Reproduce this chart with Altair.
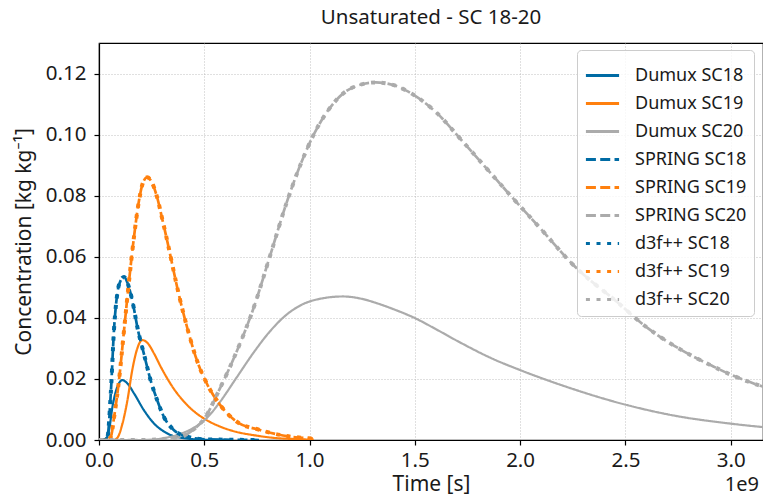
import altair as alt
import pandas as pd

# ---- data (time in units of 1e9 s, concentration in kg/kg) ----
series_names = ["Dumux SC18", "Dumux SC19", "Dumux SC20",
                "SPRING SC18", "SPRING SC19", "SPRING SC20",
                "d3f++ SC18", "d3f++ SC19", "d3f++ SC20"]
series_colors = ["#006BA4", "#FF800E", "#ABABAB"] * 3

t_dumux_sc18 = [0, 0.03, 0.048, 0.064, 0.087, 0.111, 0.135, 0.166, 0.213, 0.26, 0.323, 0.402, 0.5, 0.6]
c_dumux_sc18 = [0, 0.0002, 0.0033, 0.0109, 0.0174, 0.0196, 0.0185, 0.0153, 0.0098, 0.0055, 0.0022, 0.0006, 0.0001, 0.0]

t_dumux_sc19 = [0, 0.07, 0.09, 0.11, 0.135, 0.158, 0.182, 0.205, 0.23, 0.26, 0.293, 0.323, 0.355, 0.402, 0.449,
                0.497, 0.575, 0.65, 0.733, 0.83, 0.93, 1.02]
c_dumux_sc19 = [0, 0.0, 0.001, 0.005, 0.013, 0.0229, 0.030, 0.0327, 0.0318, 0.0285, 0.024, 0.0203, 0.0168, 0.0127,
                0.0095, 0.0071, 0.0044, 0.0027, 0.0016, 0.0007, 0.0003, 0.0001]

t_dumux_sc20 = [0, 0.25, 0.3, 0.386, 0.45, 0.512, 0.575, 0.654, 0.733, 0.811, 0.89, 0.969, 1.047, 1.158, 1.25,
                1.315, 1.4, 1.504, 1.6, 1.708, 1.866, 2.0, 2.212, 2.51, 2.747, 2.983, 3.156]
c_dumux_sc20 = [0, 0, 0.0005, 0.002, 0.004, 0.0072, 0.0125, 0.0205, 0.0285, 0.0355, 0.041, 0.0445, 0.0462, 0.047,
                0.0462, 0.0449, 0.0428, 0.0398, 0.0363, 0.0322, 0.0267, 0.0229, 0.0176, 0.0114, 0.0078, 0.0055, 0.0042]

t_spring_sc18 = [0, 0.02, 0.04, 0.056, 0.072, 0.087, 0.103, 0.119, 0.135, 0.15, 0.166, 0.182, 0.213, 0.245, 0.276,
                 0.308, 0.355, 0.418, 0.51, 0.6, 0.76]
c_spring_sc18 = [0, 0.0, 0.001, 0.0153, 0.037, 0.048, 0.0523, 0.0534, 0.0515, 0.048, 0.043, 0.037, 0.0283, 0.0196,
                 0.0131, 0.0076, 0.0033, 0.0011, 0.0002, 0.0001, 0.0]

t_spring_sc19 = [0, 0.04, 0.056, 0.072, 0.095, 0.119, 0.143, 0.166, 0.19, 0.21, 0.229, 0.25, 0.276, 0.3, 0.323,
                 0.347, 0.371, 0.418, 0.465, 0.512, 0.575, 0.654, 0.764, 0.89, 1.016]
c_spring_sc19 = [0, 0, 0.001, 0.0076, 0.0196, 0.036, 0.0523, 0.0664, 0.0784, 0.0845, 0.086, 0.0845, 0.0795, 0.0725,
                 0.0655, 0.0578, 0.0501, 0.037, 0.0261, 0.0185, 0.0115, 0.006, 0.0033, 0.0013, 0.0005]

t_spring_sc20 = [0, 0.2, 0.3, 0.386, 0.45, 0.5, 0.575, 0.654, 0.733, 0.811, 0.89, 0.953, 1.016, 1.094, 1.16, 1.23,
                 1.315, 1.4, 1.457, 1.598, 1.724, 1.85, 1.976, 2.087, 2.26, 2.464, 2.59, 2.763, 2.92, 3.0, 3.156]
c_spring_sc20 = [0, 0, 0.0003, 0.001, 0.0035, 0.007, 0.017, 0.029, 0.043, 0.060, 0.0775, 0.0895, 0.0995, 0.1085,
                 0.1135, 0.1161, 0.1171, 0.1162, 0.1145, 0.1075, 0.098, 0.0882, 0.0784, 0.070, 0.0568, 0.045, 0.0375,
                 0.0296, 0.024, 0.0214, 0.0174]

# d3f++ curves lie on top of the SPRING curves
t_d3f_sc18, c_d3f_sc18 = list(t_spring_sc18), list(c_spring_sc18)
t_d3f_sc19, c_d3f_sc19 = list(t_spring_sc19), list(c_spring_sc19)
t_d3f_sc20, c_d3f_sc20 = list(t_spring_sc20), list(c_spring_sc20)

x_ticks = [0, 0.5e9, 1.0e9, 1.5e9, 2.0e9, 2.5e9, 3.0e9]
y_ticks = [0, 0.02, 0.04, 0.06, 0.08, 0.10, 0.12]

line_width = {"Dumux": 2.2, "SPRING": 2.7, "d3f++": 4.0}

curves = [
    ("Dumux", "Dumux SC18", t_dumux_sc18, c_dumux_sc18),
    ("Dumux", "Dumux SC19", t_dumux_sc19, c_dumux_sc19),
    ("Dumux", "Dumux SC20", t_dumux_sc20, c_dumux_sc20),
    ("SPRING", "SPRING SC18", t_spring_sc18, c_spring_sc18),
    ("SPRING", "SPRING SC19", t_spring_sc19, c_spring_sc19),
    ("SPRING", "SPRING SC20", t_spring_sc20, c_spring_sc20),
    ("d3f++", "d3f++ SC18", t_d3f_sc18, c_d3f_sc18),
    ("d3f++", "d3f++ SC19", t_d3f_sc19, c_d3f_sc19),
    ("d3f++", "d3f++ SC20", t_d3f_sc20, c_d3f_sc20),
]
rows = []
for model, name, ts, cs in curves:
    for t, c in zip(ts, cs):
        rows.append({"model": model, "series": name, "time": t * 1e9, "conc": c,
                     "lw": line_width[model]})
df = pd.DataFrame(rows)

FONT = "Noto Sans"
TXT = "#1a1a1a"
dash_styles = [[1, 0]] * 3 + [[10, 4.3]] * 3 + [[4, 6.6]] * 3

x_enc = alt.X("time:Q", title="Time [s]",
              scale=alt.Scale(domain=[0, 3.1536e9], nice=False, zero=False),
              axis=alt.Axis(values=x_ticks, labelExpr="format(datum.value / 1e9, '.1f')",
                            labelFlush=False, titlePadding=3, labelPadding=5))
y_enc = alt.Y("conc:Q", title="Concentration [kg kg⁻¹]",
              scale=alt.Scale(domain=[0, 0.13], nice=False),
              axis=alt.Axis(values=y_ticks, format=".2f", labelFlush=False,
                            titlePadding=11, labelPadding=8))
color_enc = alt.Color("series:N", scale=alt.Scale(domain=series_names, range=series_colors),
                      legend=alt.Legend(title=None, orient="none", legendX=478, legendY=7,
                                        fillColor="rgba(255,255,255,0.8)", strokeColor="#cccccc",
                                        cornerRadius=4, padding=7, symbolType="stroke",
                                        symbolSize=1100, labelFontSize=18, labelFont=FONT,
                                        labelOffset=14, rowPadding=0, labelColor=TXT,
                                        labelLimit=300, symbolStrokeWidth=3))
dash_enc = alt.StrokeDash("series:N", scale=alt.Scale(domain=series_names, range=dash_styles), legend=None)
width_enc = alt.StrokeWidth("lw:Q", scale=None)

layers = []
for model in ["Dumux", "SPRING", "d3f++"]:
    layers.append(
        alt.Chart(df).transform_filter(alt.datum.model == model)
        .mark_line(interpolate="monotone", clip=True)
        .encode(x=x_enc, y=y_enc, color=color_enc, strokeDash=dash_enc, strokeWidth=width_enc)
    )

offset_label = alt.Chart(pd.DataFrame({"label": ["1e9"]})).mark_text(
    align="right", baseline="middle", fontSize=20, font=FONT, color=TXT
).encode(text="label:N", x=alt.value(660), y=alt.value(442))

chart = alt.layer(*layers, offset_label).properties(
    width=664, height=397,
    background="white",
    title=alt.Title("Unsaturated - SC 18-20", fontSize=20.5, font=FONT, fontWeight="normal",
                    color=TXT, offset=15),
    autosize=alt.AutoSizeParams(type="none"),
    padding={"left": 91, "top": 35, "right": 0, "bottom": 55},
).configure_view(stroke="black", strokeWidth=1.2).configure_axis(
    labelFont=FONT, titleFont=FONT, labelFontSize=20.5, titleFontSize=21,
    labelColor=TXT, titleColor=TXT, titleFontWeight="normal",
    domainColor="black", domainWidth=1.2, tickColor="black", tickSize=5, tickWidth=1.2,
    gridColor="#b0b0b0", gridDash=[1, 2], gridWidth=0.8,
)

chart.save("out.html", embed_options={"renderer": "svg", "actions": False})
